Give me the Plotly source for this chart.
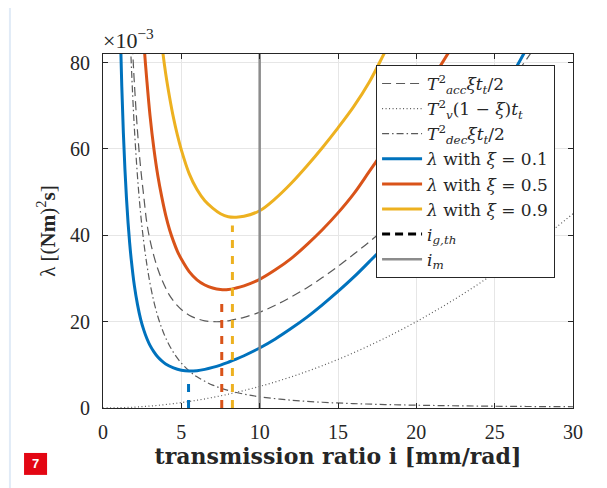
import plotly.graph_objects as go

# ---------------- data (y in 1e-3 units) ----------------
dashed_x = [1.8, 1.9, 2.0, 2.2, 2.4, 2.6, 2.8, 3.0, 3.25, 3.5, 3.75, 4.0, 4.25, 4.5, 4.75, 5.0,
            5.5, 6.0, 6.5, 7.0, 7.5, 8.0, 8.5, 9.0, 10, 11, 12, 13, 14, 15, 16, 17, 18, 19, 20,
            21, 22, 23, 24, 25, 26, 27, 28]
dashed_y = [90.5, 82.3, 75.4, 64.2, 55.7, 49.1, 42.8, 38.9, 35.2, 32.2, 29.8, 27.8, 26.1, 24.8,
            23.7, 22.8, 21.5, 20.7, 20.2, 20.0, 20.0, 20.2, 20.6, 21.0, 22.2, 23.8, 25.7, 27.8,
            30.2, 32.8, 35.6, 38.5, 41.6, 45.3, 49.0, 53.0, 57.2, 61.4, 65.9, 70.6, 75.5, 80.6, 85.8]

dotted_x = [0, 2, 4, 6, 8, 10, 12, 14, 16, 18, 20, 22, 24, 26, 28, 30]
dotted_y = [0, 0.2, 0.8, 1.8, 3.2, 5.0, 7.2, 9.8, 12.8, 16.2, 20.0, 24.2, 28.8, 33.8, 39.2, 45.0]

dashdot_x = [1.6, 1.7, 1.8, 1.9, 2.0, 2.2, 2.4, 2.6, 2.8, 3.0, 3.25, 3.5, 3.75, 4.0, 4.5, 5.0,
             5.5, 6.0, 7.0, 8.0, 9.0, 10, 12, 14, 16, 18, 20, 22, 24, 26, 28, 30]
dashdot_y = [101.6, 90.0, 80.2, 72.0, 65.0, 53.7, 45.1, 38.5, 33.2, 28.9, 24.6, 21.2, 18.5, 16.25,
             12.84, 10.4, 8.6, 7.22, 5.31, 4.06, 3.21, 2.6, 1.81, 1.33, 1.02, 0.8, 0.65, 0.54,
             0.45, 0.38, 0.33, 0.29]

blue_x = [1.0, 1.1, 1.2, 1.3, 1.4, 1.5, 1.6, 1.7, 1.8, 2.0, 2.2, 2.4, 2.6, 2.8, 3.0, 3.25, 3.5,
          3.75, 4.0, 4.5, 5.0, 5.5, 6.0, 6.5, 7.0, 7.5, 8.0, 8.5, 9.0, 10, 11, 12, 13, 14, 15,
          16, 17, 18, 19, 20, 21, 22, 23, 24, 25, 26, 27]
blue_y = [106.1, 88.1, 74.4, 63.7, 55.3, 48.5, 42.9, 38.3, 34.5, 28.4, 24.0, 20.6, 18.1, 16.1,
          14.5, 13.0, 11.8, 10.9, 10.2, 9.3, 8.75, 8.55, 8.65, 8.95, 9.4, 9.95, 10.6, 11.3, 12.1,
          13.9, 16.0, 18.4, 21.0, 23.9, 27.0, 30.3, 33.9, 37.6, 41.6, 45.9, 50.3, 55.0, 59.9,
          65.0, 70.5, 76.5, 83.0]

red_x = [2.4, 2.5, 2.6, 2.8, 3.0, 3.25, 3.5, 3.75, 4.0, 4.25, 4.5, 4.75, 5.0, 5.5, 6.0, 6.5,
         7.0, 7.5, 8.0, 8.5, 9.0, 10, 11, 12, 13, 14, 15, 16, 17, 18, 19, 20, 21, 22, 23]
red_y = [98, 91, 85, 75.8, 67.8, 60.0, 53.8, 48.9, 44.7, 41.3, 38.6, 36.3, 34.5, 31.6, 29.7,
         28.5, 27.8, 27.45, 27.45, 27.8, 28.3, 29.8, 32.0, 34.6, 37.8, 41.3, 45.2, 49.6, 54.8,
         60.0, 65.3, 70.7, 76.2, 82.0, 88.2]

yellow_x = [3.5, 3.75, 4.0, 4.25, 4.5, 4.75, 5.0, 5.5, 6.0, 6.5, 7.0, 7.5, 8.0, 8.5, 9.0, 10,
            11, 12, 13, 14, 15, 16, 17, 18, 19]
yellow_y = [94, 84.5, 77.5, 72.0, 67.2, 63.2, 59.8, 54.3, 50.6, 48.0, 46.3, 45.0, 44.3, 44.2,
            44.4, 45.7, 48.5, 52.0, 56.0, 60.3, 64.9, 69.8, 75.5, 82.5, 89.5]

ig_x = [5.46, 7.58, 8.26]          # i_g,th for xi = 0.1, 0.5, 0.9
ig_top = [5.8, 25.7, 42.3]
im_x = 10                           # i_m

x_ticks = [0, 5, 10, 15, 20, 25, 30]
y_ticks = [0, 20, 40, 60, 80]

# ---------------- styles ----------------
BLUE, RED, YEL = "#0072BD", "#D95319", "#EDB120"
GRAY = "#5a5a5a"
FONT = "Liberation Serif, serif"
WIDEFONT = "DejaVu Serif, serif"
INK = "#262626"

fig = go.Figure()

fig.add_trace(go.Scatter(x=dashed_x, y=dashed_y, mode="lines", line_shape="spline",
                         line=dict(color=GRAY, width=1.2, dash="9px,5px"),
                         name="<i>T</i><sup>2</sup><sub><i>acc</i></sub><i>ξt</i><sub><i>t</i></sub>/2"))
fig.add_trace(go.Scatter(x=dotted_x, y=dotted_y, mode="lines", line_shape="spline",
                         line=dict(color=GRAY, width=1.2, dash="1px,2.5px"),
                         name="<i>T</i><sup>2</sup><sub><i>v</i></sub>(1 − <i>ξ</i>)<i>t</i><sub><i>t</i></sub>"))
fig.add_trace(go.Scatter(x=dashdot_x, y=dashdot_y, mode="lines", line_shape="spline",
                         line=dict(color=GRAY, width=1.2, dash="7px,3px,1.5px,3px"),
                         name="<i>T</i><sup>2</sup><sub><i>dec</i></sub><i>ξt</i><sub><i>t</i></sub>/2"))
fig.add_trace(go.Scatter(x=blue_x, y=blue_y, mode="lines", line_shape="spline",
                         line=dict(color=BLUE, width=3), name="<i>λ</i> with <i>ξ</i> = 0.1"))
fig.add_trace(go.Scatter(x=red_x, y=red_y, mode="lines", line_shape="spline",
                         line=dict(color=RED, width=3), name="<i>λ</i> with <i>ξ</i> = 0.5"))
fig.add_trace(go.Scatter(x=yellow_x, y=yellow_y, mode="lines", line_shape="spline",
                         line=dict(color=YEL, width=3), name="<i>λ</i> with <i>ξ</i> = 0.9"))

for xv, top, col in zip(ig_x, ig_top, [BLUE, RED, YEL]):
    fig.add_trace(go.Scatter(x=[xv, xv], y=[0, top], mode="lines",
                             line=dict(color=col, width=3, dash="8px,8px"),
                             showlegend=False, hoverinfo="skip"))
fig.add_trace(go.Scatter(x=[None], y=[None], mode="lines",
                         line=dict(color="black", width=3, dash="8px,5px"),
                         name="<i>i</i><sub><i>g,th</i></sub>"))
fig.add_trace(go.Scatter(x=[im_x, im_x], y=[0, 82], mode="lines",
                         line=dict(color="#8c8c8c", width=2.5),
                         name="<i>i</i><sub><i>m</i></sub>"))

axis_common = dict(showline=True, linecolor=INK, linewidth=1, mirror="ticks",
                   ticks="inside", ticklen=5, tickcolor=INK, tickwidth=1,
                   showgrid=True, gridcolor="#e6e6e6", gridwidth=1, zeroline=False,
                   tickfont=dict(family=FONT, size=20, color=INK))

fig.update_xaxes(range=[0, 30], tickvals=x_ticks, ticklabelstandoff=6,
                 title=dict(text="<b>transmission ratio i [mm/rad]</b>",
                            font=dict(family=WIDEFONT, size=22, color=INK), standoff=5),
                 **axis_common)
fig.update_yaxes(range=[0, 82], tickvals=y_ticks, ticklabelstandoff=8,
                 title=dict(text="λ [(<b>Nm</b>)<sup>2</sup><b>s</b>]",
                            font=dict(family=FONT, size=21, color=INK), standoff=8),
                 **axis_common)

# page body has an 8px margin: figure is 8px smaller and margins shifted accordingly
fig.update_layout(
    width=599, height=480, autosize=False,
    margin=dict(l=95, r=34, t=46, b=80),
    paper_bgcolor="white", plot_bgcolor="white",
    font=dict(family=FONT, color=INK),
    legend=dict(x=0.581, y=0.969, xanchor="left", yanchor="top", bgcolor="white",
                bordercolor=INK, borderwidth=1, itemwidth=40, tracegroupgap=0,
                font=dict(family=WIDEFONT, size=17, color=INK)),
    annotations=[
        dict(text="×10<sup>−3</sup>", xref="paper", yref="paper", x=-0.005, y=0.997,
             xanchor="left", yanchor="bottom", showarrow=False,
             font=dict(family=FONT, size=22, color=INK)),
        dict(text="<b>7</b>", xref="paper", yref="paper", x=-0.1436, y=-0.158,
             xanchor="center", yanchor="middle", showarrow=False,
             font=dict(family="Liberation Sans, sans-serif", size=13, color="white")),
    ],
    shapes=[
        dict(type="line", xref="paper", yref="paper", x0=-0.198, x1=-0.198, y0=1.138, y1=-0.24,
             line=dict(color="#e1ebf7", width=2)),
        dict(type="line", xref="paper", yref="paper", x0=-0.198, x1=1.08, y0=1.138, y1=1.138,
             line=dict(color="#e1ebf7", width=2)),
        dict(type="rect", xref="paper", yref="paper", x0=-0.168, x1=-0.119, y0=-0.189, y1=-0.127,
             fillcolor="#e30613", line=dict(width=0)),
    ],
)

fig.write_html("out.html")
